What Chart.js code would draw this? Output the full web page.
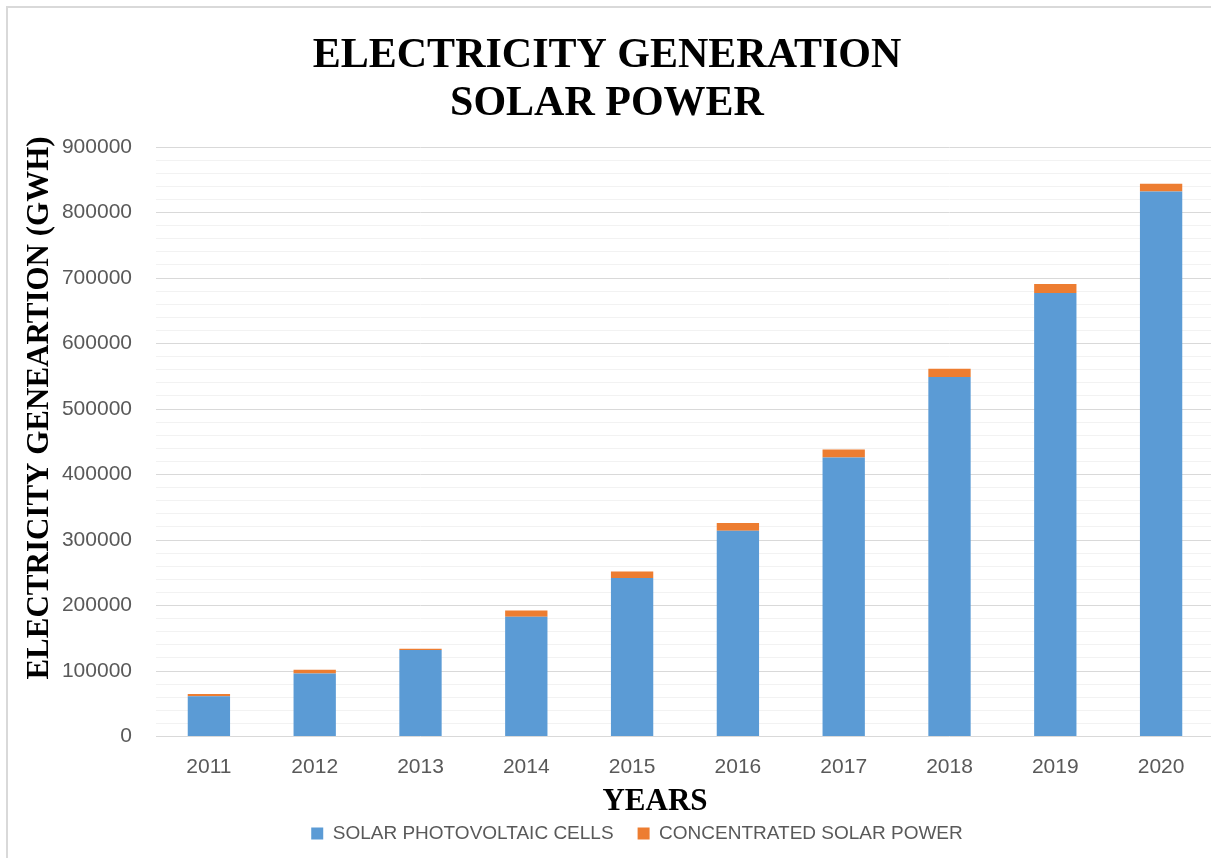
<!DOCTYPE html>
<html lang="en">
<head>
<meta charset="utf-8">
<title>Electricity Generation - Solar Power</title>
<script src="https://cdn.jsdelivr.net/npm/chart.js@4.4.1/dist/chart.umd.min.js"></script>
<style>
    html, body { margin: 0; padding: 0; background: #ffffff; }
    #wrap { position: relative; width: 1211px; height: 858px; overflow: hidden; }
    #frame {
        position: absolute; left: 6px; top: 6px; width: 1300px; height: 900px;
        border-left: 2px solid #d9d9d9; border-top: 2px solid #d9d9d9;
    }
    #solarChart { position: absolute; left: 0; top: 0; }
</style>
</head>
<body>
<div id="wrap">
    <div id="frame"></div>
    <canvas id="solarChart" width="1214" height="870"></canvas>
</div>
<script>
// Yearly generation in GWh
const years = ['2011', '2012', '2013', '2014', '2015', '2016', '2017', '2018', '2019', '2020'];
const photovoltaic = [61500, 96000, 132000, 183000, 242000, 314000, 426000, 549000, 677000, 832000];
const concentrated = [3500, 6000, 2000, 9500, 10000, 12000, 12000, 12500, 14000, 12000];

const seriesNames = ['SOLAR PHOTOVOLTAIC CELLS', 'CONCENTRATED SOLAR POWER'];
const chartTitle = ['ELECTRICITY GENERATION', 'SOLAR POWER'];
const xTitle = 'YEARS';
const yTitle = 'ELECTRICITY GENEARTION (GWH)';

// Value axis: labelled every 100000, light minor lines every 20000
const yMax = 900000;
const majorStep = 100000;
const minorStep = 20000;

document.addEventListener('DOMContentLoaded', function () {
    const canvas = document.getElementById('solarChart');

    const serif = '"Liberation Serif", "Times New Roman", serif';
    const sans = '"Liberation Sans", Arial, sans-serif';
    const grey = '#595959';

    // Axis titles are drawn by hand so they can sit off-centre like the original layout
    const axisTitles = {
        id: 'axisTitles',
        afterDraw(chart) {
            const ctx = chart.ctx;
            ctx.save();
            ctx.fillStyle = '#000000';
            ctx.font = 'bold 31px ' + serif;
            ctx.textAlign = 'center';
            ctx.textBaseline = 'middle';
            ctx.fillText(xTitle, 655, 802);
            ctx.translate(40, 408);
            ctx.rotate(-Math.PI / 2);
            ctx.fillText(yTitle, 0, 0);
            ctx.restore();
        }
    };

    // Nudge the legend row to the right
    const legendShift = {
        id: 'legendShift',
        afterLayout(chart) {
            chart.legend.left += 30;
            chart.legend.right += 30;
        }
    };

    new Chart(canvas.getContext('2d'), {
        type: 'bar',
        data: {
            labels: years,
            datasets: [{
                label: seriesNames[0],
                data: photovoltaic,
                backgroundColor: '#5b9bd5',
                barPercentage: 0.4,
                categoryPercentage: 1
            }, {
                label: seriesNames[1],
                data: concentrated,
                backgroundColor: '#ed7d31',
                barPercentage: 0.4,
                categoryPercentage: 1
            }]
        },
        options: {
            responsive: false,
            animation: false,
            layout: {
                padding: { left: 0, right: 0, top: 0, bottom: 17 }
            },
            plugins: {
                title: {
                    display: true,
                    text: chartTitle,
                    color: '#000000',
                    font: { family: serif, size: 42, weight: 'bold', lineHeight: 48 / 42 },
                    padding: { top: 32, bottom: 19 }
                },
                legend: {
                    position: 'bottom',
                    labels: {
                        boxWidth: 12,
                        boxHeight: 12,
                        padding: 24,
                        color: grey,
                        font: { family: sans, size: 19 }
                    }
                },
                tooltip: { enabled: false }
            },
            scales: {
                x: {
                    stacked: true,
                    grid: { display: false, drawTicks: false },
                    border: { display: false },
                    ticks: {
                        color: grey,
                        padding: 18,
                        font: { family: sans, size: 21 }
                    },
                    afterFit: function (scale) {
                        scale.height = 63.5;
                    }
                },
                y: {
                    stacked: true,
                    min: 0,
                    max: yMax,
                    border: { display: false },
                    grid: {
                        drawTicks: false,
                        color: function (ctx) {
                            return ctx.tick && ctx.tick.value % majorStep === 0 ? '#d9d9d9' : '#f2f2f2';
                        }
                    },
                    ticks: {
                        stepSize: minorStep,
                        autoSkip: false,
                        color: grey,
                        padding: 24,
                        font: { family: sans, size: 21 },
                        callback: function (value) {
                            return value % majorStep === 0 ? String(value) : '';
                        }
                    },
                    afterFit: function (scale) {
                        scale.width = 156;
                    }
                }
            }
        },
        plugins: [axisTitles, legendShift]
    });
});
</script>
</body>
</html>
